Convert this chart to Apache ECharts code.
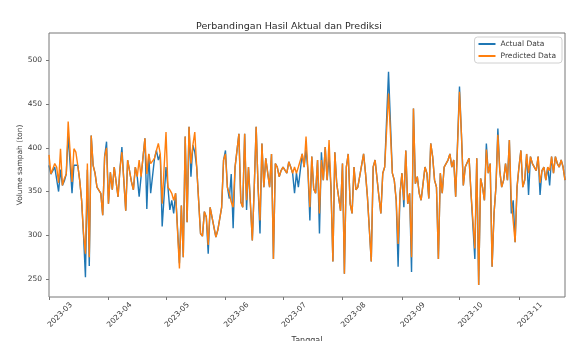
<!DOCTYPE html>
<html>
<head>
<meta charset="utf-8">
<script src="https://cdn.jsdelivr.net/npm/echarts@6/dist/echarts.min.js"></script>
<style>
  html, body { margin: 0; padding: 0; background: #fff; }
  #chart { width: 578px; height: 341px; }
</style>
</head>
<body>
<div id="chart"></div>
<script>
// day offsets from 2023-03-01 for each reading
const dayIndex = [0,1,3,4,5,6,7,8,9,10,12,13,14,15,16,17,18,19,20,21,22,23,24,25,27,28,29,30,31,32,33,34,36,37,38,39,40,41,43,44,
  45,46,47,48,50,51,52,53,55,56,57,58,59,61,62,63,64,65,66,68,69,70,71,72,73,74,75,76,77,78,79,80,81,82,83,84,85,87,88,90,
  91,92,93,94,95,96,97,99,100,101,102,103,104,106,107,108,109,110,111,112,113,114,115,116,117,118,119,120,121,122,124,125,126,127,
  128,129,130,132,133,134,135,136,137,138,139,140,141,142,143,144,145,146,147,148,149,150,152,153,154,155,156,157,158,159,160,161,
  162,164,165,166,168,169,170,172,173,174,175,176,177,179,180,181,182,183,184,185,186,187,188,189,190,191,192,193,194,196,197,198,
  199,200,201,202,203,204,205,206,208,209,210,211,212,214,215,216,217,218,219,220,221,222,223,224,225,226,227,228,229,230,231,232,
  233,234,235,236,237,238,239,240,241,242,243,244,245,246,247,248,249,250,251,252,253,254,255,256,257,258,259,260,261,262,263,264,
  265,266,267,268,269]

const actual = [380,370,378,378,350,375,357,362,370,415,348,380,380,380,363,340,300,252,375,265,414,380,371,355,348,323,390,407,336,372,
  352,378,344,376,401,363,328,386,361,352,378,367,344,367,411,330,393,348,388,397,386,393,310,378,355,329,340,325,348,268,
  334,275,413,315,424,367,403,395,378,380,302,299,327,321,279,332,334,298,306,332,386,397,355,342,370,308,378,416,338,332,
  416,329,378,294,355,424,355,302,405,355,388,388,355,393,273,382,378,367,374,378,371,384,378,371,348,371,355,393,378,398,
  374,317,390,353,348,386,302,395,363,401,363,390,355,270,395,359,328,382,256,378,393,336,325,378,352,355,355,393,371,344,
  270,378,386,344,325,371,378,378,487,371,363,340,264,348,371,332,397,336,348,258,445,359,367,348,340,378,371,342,405,390,
  363,355,273,371,348,378,386,393,378,386,344,470,416,357,378,378,388,348,348,273,388,243,365,355,340,405,371,382,264,325,
  355,422,374,355,363,382,363,409,325,340,292,355,378,397,355,363,393,346,390,382,380,374,390,346,374,378,363,378,357,390,
  371,390,382,378,386,378,363]

const predicted = [392,370,382,378,360,399,357,365,370,430,361,399,395,380,363,340,302,279,382,275,414,380,371,355,348,323,390,400,336,372,
  352,378,344,376,395,363,328,386,361,352,378,367,386,367,411,370,393,382,388,397,405,393,336,418,355,352,348,340,348,262,
  334,275,413,315,424,382,403,418,378,380,302,299,327,321,289,332,334,298,306,332,386,393,355,348,338,332,378,416,338,332,
  416,340,378,294,355,424,355,317,405,355,388,388,355,393,273,382,378,367,374,378,371,384,378,371,378,371,378,393,378,413,
  374,332,390,353,348,386,325,386,363,401,363,409,355,270,395,359,328,382,256,378,393,336,325,378,352,355,355,393,371,344,
  270,378,386,344,325,371,378,378,462,371,363,340,290,348,371,340,397,336,348,275,445,359,367,348,340,378,371,342,405,390,
  363,355,273,371,348,378,386,393,378,386,344,464,416,357,378,378,388,348,348,285,388,243,365,355,340,398,371,382,264,325,
  355,415,374,355,363,382,363,409,340,340,292,355,378,397,355,363,393,371,390,382,380,374,390,360,374,378,363,378,374,390,
  371,390,382,378,386,378,363]

const legends = ['Actual Data', 'Predicted Data']
const yTicks = [250, 300, 350, 400, 450, 500]

// every day on the axis, 2023-03-01 .. 2023-11-25
const days = []
for (let i = 0; i <= 269; i++) {
  const d = new Date(2023, 2, 1 + i)
  const mm = String(d.getMonth() + 1).padStart(2, '0')
  const dd = String(d.getDate()).padStart(2, '0')
  days.push(d.getFullYear() + '-' + mm + '-' + dd)
}
const isMonthStart = (idx, val) => val.endsWith('-01')

const font = 'DejaVu Sans'
const txt = '#3a3a3a'

const option = {
  animation: false,
  textStyle: { fontFamily: font },
  title: {
    text: 'Perbandingan Hasil Aktual dan Prediksi',
    left: 'center',
    top: 17,
    textStyle: { fontSize: 9.5, fontWeight: 'normal', color: '#2a2a2a', fontFamily: font }
  },
  legend: {
    data: legends,
    orient: 'vertical',
    right: 16,
    top: 37,
    padding: [3, 6, 3, 4],
    itemGap: 4,
    itemWidth: 17,
    itemHeight: 2,
    icon: 'rect',
    borderColor: '#d0d0d0',
    borderWidth: 1,
    borderRadius: 3,
    backgroundColor: '#fff',
    textStyle: { color: txt, fontSize: 7.5, fontFamily: font }
  },
  grid: {
    left: 49,
    right: 13,
    top: 33,
    bottom: 44,
    outerBoundsMode: 'none',
    containLabel: false,
    show: true,
    borderColor: '#777',
    borderWidth: 1
  },
  xAxis: {
    type: 'category',
    data: days,
    boundaryGap: false,
    name: 'Tanggal',
    nameLocation: 'middle',
    nameGap: 40,
    nameTextStyle: { color: txt, fontSize: 8, fontFamily: font },
    axisLine: { show: false },
    axisTick: { show: true, interval: isMonthStart, length: 3, lineStyle: { color: '#777' } },
    axisLabel: {
      interval: isMonthStart,
      rotate: 45,
      align: 'left',
      verticalAlign: 'middle',
      margin: 29,
      color: txt,
      fontSize: 7.5,
      formatter: v => v.slice(0, 7)
    },
    splitLine: { show: false }
  },
  yAxis: {
    type: 'value',
    min: 229.4,
    max: 531.3,
    splitNumber: 6,
    name: 'Volume sampah (ton)',
    nameLocation: 'middle',
    nameGap: 25,
    nameMoveOverlap: false,
    nameTextStyle: { color: txt, fontSize: 7.5, fontFamily: font },
    axisLine: { show: false },
    axisTick: { show: true, length: 3, lineStyle: { color: '#777' } },
    axisLabel: {
      color: txt,
      fontSize: 7.5,
      margin: 7,
      showMinLabel: false,
      showMaxLabel: false,
      formatter: v => (yTicks.includes(v) ? String(v) : '')
    },
    splitLine: { show: false }
  },
  series: [
    {
      name: legends[0],
      type: 'line',
      data: dayIndex.map((d, i) => [d, actual[i]]),
      showSymbol: false,
      symbol: 'none',
      itemStyle: { color: '#1f77b4' },
      lineStyle: { color: '#1f77b4', width: 1.4 },
      z: 2
    },
    {
      name: legends[1],
      type: 'line',
      data: dayIndex.map((d, i) => [d, predicted[i]]),
      showSymbol: false,
      symbol: 'none',
      itemStyle: { color: '#ff7f0e' },
      lineStyle: { color: '#ff7f0e', width: 1.4 },
      z: 3
    }
  ]
}

const chart = echarts.init(document.getElementById('chart'))
chart.setOption(option)
</script>
</body>
</html>
